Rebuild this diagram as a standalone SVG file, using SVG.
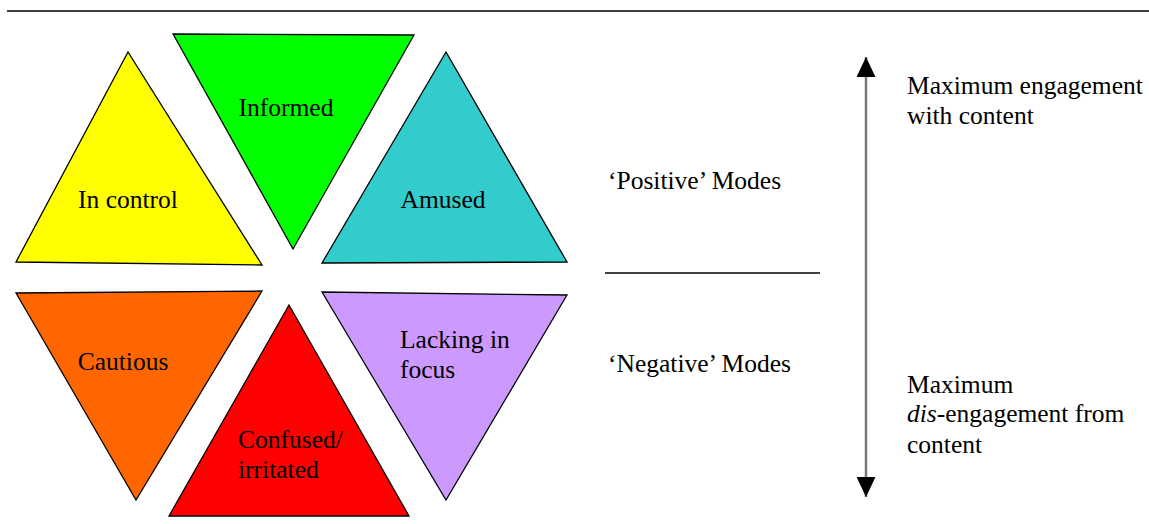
<svg xmlns="http://www.w3.org/2000/svg" width="1149" height="524" viewBox="0 0 1149 524">
<style>
.tri{stroke:#000;stroke-width:1.3;stroke-linejoin:miter}
text{font-family:"Liberation Serif","Times New Roman",serif;font-size:25.5px;fill:#000}
.ln{stroke:#000;stroke-width:1.5}
</style>
<defs>
<marker id="ah" viewBox="0 0 20 19" refX="20" refY="9.5" markerWidth="20" markerHeight="19" markerUnits="userSpaceOnUse" orient="auto-start-reverse">
<path d="M0,0 L20,9.5 L0,19 z" fill="#000"/>
</marker>
</defs>
<rect width="1149" height="524" fill="#fff"/>
<line class="ln" x1="7" y1="11" x2="1149" y2="11"/>
<g id="in-control"><polygon class="tri" fill="#ffff00" points="128,52 16,262 262,265"/><text x="128" y="208" text-anchor="middle">In control</text></g>
<g id="informed"><polygon class="tri" fill="#00ff00" points="173,34 414,35 293,249"/><text x="286" y="116" text-anchor="middle">Informed</text></g>
<g id="amused"><polygon class="tri" fill="#33cccc" points="446,52 322,263 567,262"/><text x="443" y="208" text-anchor="middle">Amused</text></g>
<g id="cautious"><polygon class="tri" fill="#ff6600" points="16,293 262,291 136,500"/><text x="123" y="370" text-anchor="middle">Cautious</text></g>
<g id="confused"><polygon class="tri" fill="#ff0000" points="289,305 169,516 409,516"/><text x="238" y="448">Confused/</text><text x="238" y="478">irritated</text></g>
<g id="lacking"><polygon class="tri" fill="#cc99ff" points="322,292 567,295 446,500"/><text x="400" y="348">Lacking in</text><text x="400" y="378">focus</text></g>
<g id="labels">
<text x="608" y="189">‘Positive’ Modes</text>
<line class="ln" x1="605" y1="273" x2="820" y2="273" stroke-width="1.2"/>
<text x="608" y="372">‘Negative’ Modes</text>
<text x="907" y="94">Maximum engagement</text>
<text x="907" y="124">with content</text>
<text x="907" y="393">Maximum</text>
<text x="907" y="422"><tspan font-style="italic">dis</tspan>-engagement from</text>
<text x="907" y="453">content</text>
</g>
<g id="connectors">
<line x1="866" y1="497" x2="866" y2="57" stroke="#777" stroke-width="2.5" marker-start="url(#ah)" marker-end="url(#ah)"/>
</g>
</svg>
